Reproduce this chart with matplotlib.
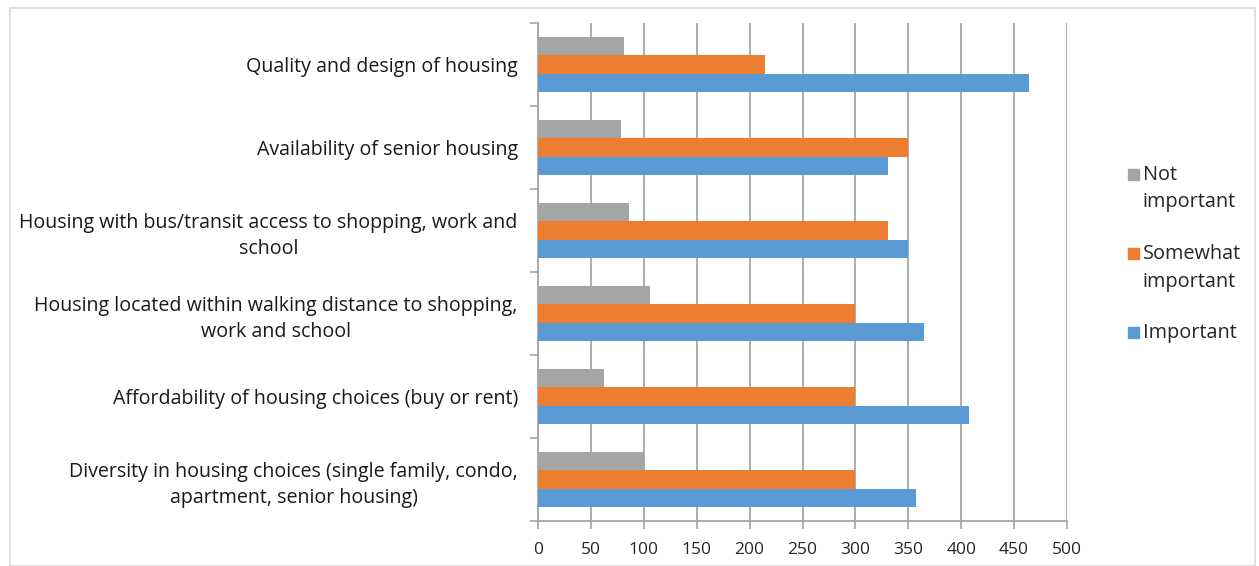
import matplotlib
matplotlib.use("Agg")
import matplotlib.pyplot as plt
import numpy as np
from matplotlib.patches import Rectangle

# Survey results: number of respondents per importance rating
categories = [
    "Diversity in housing choices (single family, condo,\napartment, senior housing)",
    "Affordability of housing choices (buy or rent)",
    "Housing located within walking distance to shopping,\nwork and school",
    "Housing with bus/transit access to shopping, work and\nschool",
    "Availability of senior housing",
    "Quality and design of housing",
]
important = [357, 407, 365, 350, 331, 464]
somewhat_important = [300, 300, 300, 331, 350, 215]
not_important = [100, 62, 106, 86, 78, 81]

series_names = ["Not\nimportant", "Somewhat\nimportant", "Important"]
series_colors = ["#A5A5A5", "#ED7D31", "#5B9BD5"]
x_ticks = [0, 50, 100, 150, 200, 250, 300, 350, 400, 450, 500]

plt.rcParams["font.family"] = ["Open Sans", "DejaVu Sans"]

W, H = 1259, 566
fig = plt.figure(figsize=(W / 100, H / 100), dpi=100)

# thin frame around the chart area
fig.patches.append(Rectangle((10 / W, 0), (1255 - 10) / W, 558 / H,
                             transform=fig.transFigure, fill=False,
                             edgecolor="#d9d9d9", linewidth=1.2))

ax = fig.add_axes([538 / W, (H - 521) / H, (1067 - 538) / W, (521 - 23) / H])

y = np.arange(len(categories))
bh = 1 / 4.5  # three bars plus a 150% gap
ax.barh(y - bh, important, height=bh, color=series_colors[2], zorder=3)
ax.barh(y, somewhat_important, height=bh, color=series_colors[1], zorder=3)
ax.barh(y + bh, not_important, height=bh, color=series_colors[0], zorder=3)

ax.set_xlim(0, 500)
ax.set_ylim(-0.5, len(categories) - 0.5)
ax.set_xticks(x_ticks)
ax.set_xticklabels([str(v) for v in x_ticks], fontsize=12.5, color="#262626")
ax.xaxis.grid(True, color="#a6a6a6", linewidth=1.3, zorder=0)
ax.set_axisbelow(True)

ax.set_yticks(y)
ax.set_yticklabels(categories, fontsize=14.1, color="#1a1a1a",
                   multialignment="center", linespacing=1.42)
ax.set_yticks(np.arange(-0.5, len(categories)), minor=True)
ax.tick_params(axis="y", which="major", length=0, pad=14.5)
ax.tick_params(axis="y", which="minor", length=6, width=1.2, color="#a6a6a6")
ax.tick_params(axis="x", which="major", length=6, width=1.2, color="#a6a6a6",
               pad=9)

for side in ("top", "right"):
    ax.spines[side].set_visible(False)
for side in ("left", "bottom"):
    ax.spines[side].set_color("#a6a6a6")
    ax.spines[side].set_linewidth(1.3)

# legend drawn as swatches with wrapped labels
legend_rows = [(169, series_names[0], series_colors[0]),
               (248, series_names[1], series_colors[1]),
               (327, series_names[2], series_colors[2])]
for top, name, col in legend_rows:
    fig.patches.append(Rectangle((1128 / W, (H - top - 11) / H), 11 / W, 11 / H,
                                 transform=fig.transFigure, color=col))
    fig.text(1143 / W, (H - top + 4) / H, name, fontsize=14.3, color="#262626",
             ha="left", va="top", linespacing=1.5)

fig.savefig("out.png", dpi=100)
